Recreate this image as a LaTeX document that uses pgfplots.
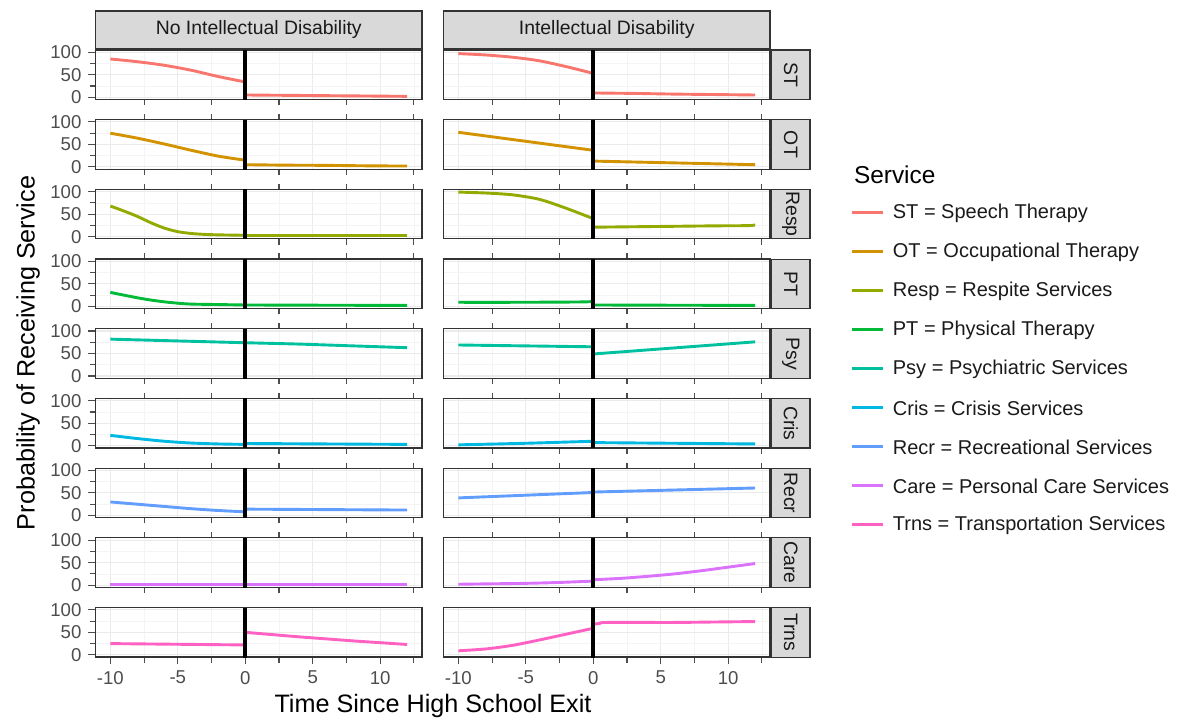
\documentclass[border=0pt]{standalone}
\usepackage{pgfplots}
\pgfplotsset{compat=1.18}
\usepackage{fontspec}
\setmainfont{Liberation Sans}
\definecolor{STc}{HTML}{F8766D}
\definecolor{OTc}{HTML}{D39200}
\definecolor{Respc}{HTML}{93AA00}
\definecolor{PTc}{HTML}{00BA38}
\definecolor{Psyc}{HTML}{00C19F}
\definecolor{Crisc}{HTML}{00B9E3}
\definecolor{Recrc}{HTML}{619CFF}
\definecolor{Carec}{HTML}{DB72FB}
\definecolor{Trnsc}{HTML}{FF61C3}
\definecolor{gridmaj}{HTML}{EBEBEB}
\definecolor{gridmin}{HTML}{F4F4F4}
\definecolor{border}{HTML}{333333}
\definecolor{stripfill}{HTML}{D9D9D9}
\definecolor{tickc}{HTML}{4D4D4D}
\definecolor{txt}{HTML}{1A1A1A}
\pgfplotsset{
  panel/.style={scale only axis, width=163.25pt, height=24.75pt, anchor=north west,
    xmin=-11.1, xmax=13.1, ymin=-5, ymax=105,
    xtick={-10,-5,0,5,10}, ytick={0,50,100},
    minor xtick={-7.5,-2.5,2.5,7.5,12.5}, minor ytick={25,75},
    xmajorgrids, ymajorgrids, xminorgrids, yminorgrids,
    major grid style={color=gridmaj, line width=0.55pt},
    minor grid style={color=gridmin, line width=0.3pt},
    axis line style={draw=border, line width=0.6pt},
    xmajorticks=false, ymajorticks=false, xminorticks=false, yminorticks=false,
    xticklabels={}, yticklabels={},
    tick align=outside, major tick length=3.5pt,
    tick style={draw=tickc, line width=0.55pt},
    every axis plot/.append style={line width=1.45pt, smooth, tension=0.45, mark=none},
  },
  righty/.style={ytick style={draw=none}, yticklabel style={opacity=0}},
  lefty/.style={ymajorticks=true, ytick pos=left, yticklabels={0,50,100},
    yticklabel style={font=\fontsize{9.3}{10}\selectfont, color=tickc}},
  botx/.style={xmajorticks=true, xtick pos=bottom, xticklabels={-10,-5,0,5,10},
    xticklabel style={font=\fontsize{9.3}{10}\selectfont, color=tickc}},
  vl/.style={black, line width=2pt},
}
\begin{document}
\begin{tikzpicture}[x=0.5pt,y=0.5pt]
\path[use as bounding box] (0,0) rectangle (1180,723);

% ---------- Row 1: ST ----------
\begin{axis}[panel, lefty, at={(47.75pt,336.5pt)}]
\addplot[STc] coordinates {(-10,85) (-8,79) (-6,71) (-4,60) (-2,46) (0,34)};
\addplot[STc] coordinates {(0,5) (2,4.5) (4,4) (6,3.5) (8,3) (10,2.5) (12,2)};
\addplot[vl] coordinates {(0,-5) (0,105)};
\end{axis}
\begin{axis}[panel, righty, at={(221.75pt,336.5pt)}]
\addplot[STc] coordinates {(-10,97) (-8,94) (-6,89) (-4,81) (-2,68) (0,53)};
\addplot[STc] coordinates {(0,9.5) (3,8.5) (6,7) (9,6) (12,5)};
\addplot[vl] coordinates {(0,-5) (0,105)};
\end{axis}

% ---------- Row 2: OT ----------
\begin{axis}[panel, lefty, at={(47.75pt,301.65pt)}]
\addplot[OTc] coordinates {(-10,75) (-8,64) (-6,51) (-4,37) (-2,24) (0,15)};
\addplot[OTc] coordinates {(0,5) (3,4) (6,3.5) (9,2.5) (12,2)};
\addplot[vl] coordinates {(0,-5) (0,105)};
\end{axis}
\begin{axis}[panel, righty, at={(221.75pt,301.65pt)}]
\addplot[OTc] coordinates {(-10,77) (-8,69) (-6,61) (-4,53) (-2,45) (0,37)};
\addplot[OTc] coordinates {(0,13) (3,11) (6,9) (9,7) (12,5)};
\addplot[vl] coordinates {(0,-5) (0,105)};
\end{axis}

% ---------- Row 3: Resp ----------
\begin{axis}[panel, lefty, at={(47.75pt,266.8pt)}]
\addplot[Respc] coordinates {(-10,68) (-9,57) (-8,45) (-7,31) (-6,19) (-5,11) (-4,7) (-3,5) (-2,4) (0,3)};
\addplot[Respc] coordinates {(0,2) (6,2) (12,2)};
\addplot[vl] coordinates {(0,-5) (0,105)};
\end{axis}
\begin{axis}[panel, righty, at={(221.75pt,266.8pt)}]
\addplot[Respc] coordinates {(-10,99) (-8,97) (-6,93) (-4,83) (-2,63) (0,40)};
\addplot[Respc] coordinates {(0,21) (3,22) (6,23) (9,24) (11.5,24.5) (12,26)};
\addplot[vl] coordinates {(0,-5) (0,105)};
\end{axis}

% ---------- Row 4: PT ----------
\begin{axis}[panel, lefty, at={(47.75pt,231.95pt)}]
\addplot[PTc] coordinates {(-10,31) (-9,25) (-8,19) (-7,14) (-6,10) (-5,7) (-4,5) (-2,4) (0,3)};
\addplot[PTc] coordinates {(0,3) (6,2.5) (12,2)};
\addplot[vl] coordinates {(0,-5) (0,105)};
\end{axis}
\begin{axis}[panel, righty, at={(221.75pt,231.95pt)}]
\addplot[PTc] coordinates {(-10,9) (-6,9) (-2,9.5) (-0.5,10) (0,11)};
\addplot[PTc] coordinates {(0,3) (6,2.5) (12,2)};
\addplot[vl] coordinates {(0,-5) (0,105)};
\end{axis}

% ---------- Row 5: Psy ----------
\begin{axis}[panel, lefty, at={(47.75pt,197.1pt)}]
\addplot[Psyc] coordinates {(-10,82) (-5,78) (0,74)};
\addplot[Psyc] coordinates {(0,74) (4,71) (8,67) (12,63)};
\addplot[vl] coordinates {(0,-5) (0,105)};
\end{axis}
\begin{axis}[panel, righty, at={(221.75pt,197.1pt)}]
\addplot[Psyc] coordinates {(-10,69) (-5,67) (0,65)};
\addplot[Psyc] coordinates {(0,49) (4,58) (8,67) (12,76)};
\addplot[vl] coordinates {(0,-5) (0,105)};
\end{axis}

% ---------- Row 6: Cris ----------
\begin{axis}[panel, lefty, at={(47.75pt,162.25pt)}]
\addplot[Crisc] coordinates {(-10,23) (-8,16) (-6,10) (-4,6) (-2,4) (0,3)};
\addplot[Crisc] coordinates {(0,5) (6,4) (12,3)};
\addplot[vl] coordinates {(0,-5) (0,105)};
\end{axis}
\begin{axis}[panel, righty, at={(221.75pt,162.25pt)}]
\addplot[Crisc] coordinates {(-10,2) (-5,5.5) (0,10)};
\addplot[Crisc] coordinates {(0,7) (6,5.5) (12,4)};
\addplot[vl] coordinates {(0,-5) (0,105)};
\end{axis}

% ---------- Row 7: Recr ----------
\begin{axis}[panel, lefty, at={(47.75pt,127.4pt)}]
\addplot[Recrc] coordinates {(-10,30) (-8,25) (-6,20) (-4,15) (-2,11) (0,8)};
\addplot[Recrc] coordinates {(0,14) (6,13) (12,12)};
\addplot[vl] coordinates {(0,-5) (0,105)};
\end{axis}
\begin{axis}[panel, righty, at={(221.75pt,127.4pt)}]
\addplot[Recrc] coordinates {(-10,39) (-5,45) (0,51)};
\addplot[Recrc] coordinates {(0,52) (6,56.5) (12,61)};
\addplot[vl] coordinates {(0,-5) (0,105)};
\end{axis}

% ---------- Row 8: Care ----------
\begin{axis}[panel, lefty, at={(47.75pt,92.55pt)}]
\addplot[Carec] coordinates {(-10,1) (-5,1) (0,1)};
\addplot[Carec] coordinates {(0,1) (6,1) (12,1)};
\addplot[vl] coordinates {(0,-5) (0,105)};
\end{axis}
\begin{axis}[panel, righty, at={(221.75pt,92.55pt)}]
\addplot[Carec] coordinates {(-10,2) (-7.5,3) (-5,4) (-2.5,6) (0,9)};
\addplot[Carec] coordinates {(0,12) (2,15) (4,19.5) (6,25) (8,32) (10,40) (12,48)};
\addplot[vl] coordinates {(0,-5) (0,105)};
\end{axis}

% ---------- Row 9: Trns ----------
\begin{axis}[panel, lefty, botx, at={(47.75pt,57.7pt)}]
\addplot[Trnsc] coordinates {(-10,25) (-5,23.5) (0,22)};
\addplot[Trnsc] coordinates {(0,50) (2,45) (4,40) (6,35.5) (8,31) (10,27) (12,23)};
\addplot[vl] coordinates {(0,-5) (0,105)};
\end{axis}
\begin{axis}[panel, righty, botx, at={(221.75pt,57.7pt)}]
\addplot[Trnsc] coordinates {(-10,9) (-8,13) (-6,21) (-4,33) (-2,46) (0,59)};
\addplot[Trnsc] coordinates {(0,68) (0.5,70) (1,72) (6,72) (9,73) (12,74)};
\addplot[vl] coordinates {(0,-5) (0,105)};
\end{axis}

% ---------- strips ----------
\begin{scope}[every node/.style={text=txt, font=\fontsize{9.7}{11}\selectfont}]
\draw[fill=stripfill, draw=border, line width=0.55pt] (95.5,674.5) rectangle (422,712);
\node at (258.75,693.25) {No Intellectual Disability};
\draw[fill=stripfill, draw=border, line width=0.55pt] (443.5,674.5) rectangle (770,712);
\node at (606.75,693.25) {Intellectual Disability};
\foreach \t/\lab in {673/ST,603.3/OT,533.6/Resp,463.9/PT,394.2/Psy,324.5/Cris,254.8/Recr,185.1/Care,115.4/Trns}{
  \draw[fill=stripfill, draw=border, line width=0.55pt] (771.5,\t) rectangle (810,\t-49.5);
  \node[rotate=-90] at (790.75,\t-24.75) {\lab};
}
\end{scope}

% ---------- axis titles ----------
\node[rotate=90, font=\fontsize{12.6}{14}\selectfont] at (28,370) {Probability of Receiving Service};
\node[font=\fontsize{12.6}{14}\selectfont] at (433,17) {Time Since High School Exit};

% ---------- legend ----------
\node[anchor=west, font=\fontsize{12.2}{14}\selectfont] at (847,548) {Service};
\foreach \c/\lab [count=\i from 0] in {STc/{ST = Speech Therapy},OTc/{OT = Occupational Therapy},Respc/{Resp = Respite Services},PTc/{PT = Physical Therapy},Psyc/{Psy = Psychiatric Services},Crisc/{Cris = Crisis Services},Recrc/{Recr = Recreational Services},Carec/{Care = Personal Care Services},Trnsc/{Trns = Transportation Services}}{
  \draw[\c, line width=1.5pt] (852,510-39*\i) -- (883,510-39*\i);
  \node[anchor=west, inner sep=0pt, text=txt, font=\fontsize{10}{12}\selectfont] at (892.5,510-39*\i) {\lab};
}
\end{tikzpicture}
\end{document}
